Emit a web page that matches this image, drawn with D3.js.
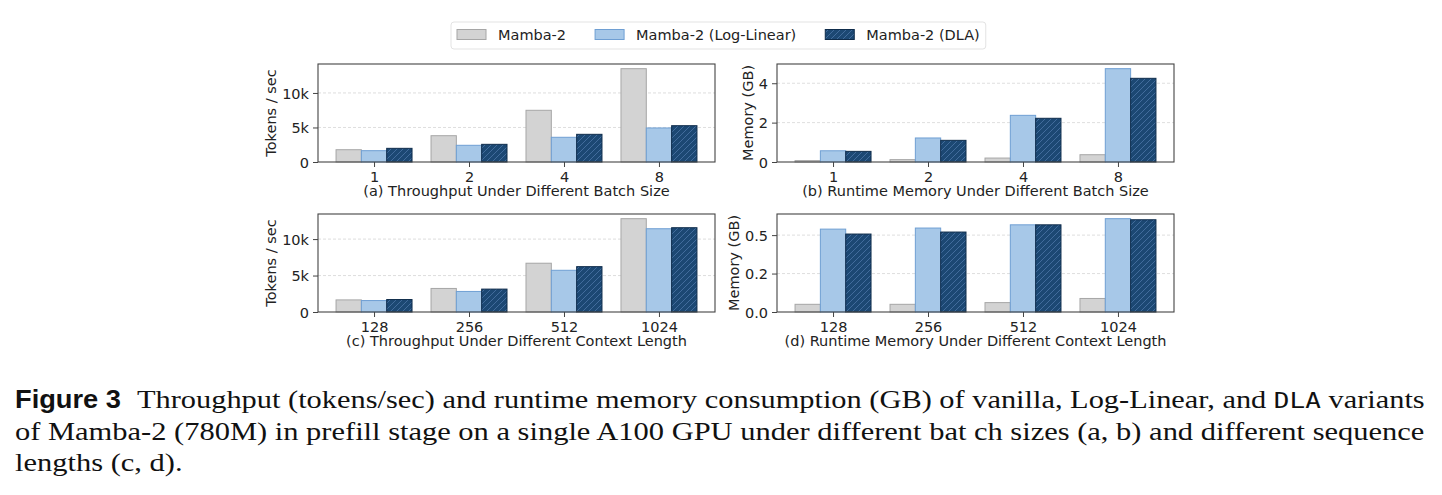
<!DOCTYPE html>
<html>
<head>
<meta charset="utf-8">
<title>Figure 3</title>
<script src="https://cdnjs.cloudflare.com/ajax/libs/d3/7.8.5/d3.min.js"></script>
<style>
  body { margin: 0; background: #fff; }
  svg { display: block; font-family: "DejaVu Sans", sans-serif; }
  .tick text { font-size: 14.5px; fill: #222; font-family: "DejaVu Sans", sans-serif; }
</style>
</head>
<body>
<svg id="fig" width="1442" height="495"></svg>
<script>
// categories
const batchSizes = ['1', '2', '4', '8'];
const contextLengths = ['128', '256', '512', '1024'];
const seriesNames = ['Mamba-2', 'Mamba-2 (Log-Linear)', 'Mamba-2 (DLA)'];

// (a) throughput vs batch size (tokens/sec)
const tputBatchMamba = [1780, 3810, 7490, 13520];
const tputBatchLogLinear = [1640, 2420, 3580, 4930];
const tputBatchDLA = [1980, 2560, 4010, 5260];

// (b) memory vs batch size (GB)
const memBatchMamba = [0.07, 0.12, 0.20, 0.37];
const memBatchLogLinear = [0.57, 1.22, 2.37, 4.74];
const memBatchDLA = [0.54, 1.10, 2.22, 4.25];

// (c) throughput vs context length (tokens/sec)
const tputCtxMamba = [1660, 3230, 6690, 12800];
const tputCtxLogLinear = [1570, 2820, 5720, 11420];
const tputCtxDLA = [1710, 3140, 6220, 11560];

// (d) memory vs context length (GB)
const memCtxMamba = [0.050, 0.050, 0.061, 0.088];
const memCtxLogLinear = [0.539, 0.546, 0.567, 0.607];
const memCtxDLA = [0.507, 0.520, 0.567, 0.600];

// tick values / labels
const tputTicks = [0, 5000, 10000];
const tputTickLabels = ['0', '5k', '10k'];
const memBatchTicks = [0, 2, 4];
const memBatchTickLabels = ['0', '2', '4'];
const memCtxTicks = [0, 0.25, 0.5];
const memCtxTickLabels = ['0.0', '0.2', '0.5'];

const fills = ['#d3d3d3', '#a7c8e8', '#1c4873'];
const edges = ['#a6a6a6', '#6f9fd3', '#0f2c4b'];

const svg = d3.select('#fig');
svg.append('rect').attr('width', 1442).attr('height', 495).attr('fill', '#fff');

// hatch for DLA bars
const defs = svg.append('defs');
const pat = defs.append('pattern')
  .attr('id', 'hatch')
  .attr('patternUnits', 'userSpaceOnUse')
  .attr('width', 6).attr('height', 6);
pat.append('rect').attr('width', 6).attr('height', 6).attr('fill', fills[2]);
pat.append('path')
  .attr('d', 'M0,6 L6,0 M-1.5,1.5 L1.5,-1.5 M4.5,7.5 L7.5,4.5')
  .attr('stroke', '#4671a0').attr('stroke-width', 0.9);

const panels = [
  { x0: 318, x1: 715, y0: 64, y1: 162, cats: batchSizes,
    series: [tputBatchMamba, tputBatchLogLinear, tputBatchDLA],
    ticks: tputTicks, tickLabels: tputTickLabels,
    ylabel: 'Tokens / sec', title: '(a) Throughput Under Different Batch Size' },
  { x0: 777, x1: 1174, y0: 64, y1: 162, cats: batchSizes,
    series: [memBatchMamba, memBatchLogLinear, memBatchDLA],
    ticks: memBatchTicks, tickLabels: memBatchTickLabels,
    ylabel: 'Memory (GB)', title: '(b) Runtime Memory Under Different Batch Size' },
  { x0: 318, x1: 715, y0: 214, y1: 312, cats: contextLengths,
    series: [tputCtxMamba, tputCtxLogLinear, tputCtxDLA],
    ticks: tputTicks, tickLabels: tputTickLabels,
    ylabel: 'Tokens / sec', title: '(c) Throughput Under Different Context Length' },
  { x0: 777, x1: 1174, y0: 214, y1: 312, cats: contextLengths,
    series: [memCtxMamba, memCtxLogLinear, memCtxDLA],
    ticks: memCtxTicks, tickLabels: memCtxTickLabels,
    ylabel: 'Memory (GB)', title: '(d) Runtime Memory Under Different Context Length' }
];

const barW = 0.8 / 3;

panels.forEach(p => {
  const n = p.cats.length;
  // matplotlib-like 5% margins around the bars
  const lo = -0.4, hi = n - 1 + 0.4, pad = (hi - lo) * 0.05;
  const x = d3.scaleLinear().domain([lo - pad, hi + pad]).range([p.x0, p.x1]);
  const ymax = d3.max(p.series, s => d3.max(s)) * 1.05;
  const y = d3.scaleLinear().domain([0, ymax]).range([p.y1, p.y0]);

  const g = svg.append('g');

  // grid
  g.selectAll('.grid')
    .data(p.ticks.filter(t => t > 0))
    .enter().append('line')
    .attr('x1', p.x0).attr('x2', p.x1)
    .attr('y1', d => y(d)).attr('y2', d => y(d))
    .attr('stroke', '#d6d6d6').attr('stroke-width', 0.8)
    .attr('stroke-dasharray', '3,2');

  // bars
  p.series.forEach((vals, s) => {
    g.selectAll('.bar' + s)
      .data(vals)
      .enter().append('rect')
      .attr('x', (d, i) => x(i - 0.4 + s * barW))
      .attr('width', x(barW) - x(0))
      .attr('y', d => y(d))
      .attr('height', d => y(0) - y(d))
      .attr('fill', s === 2 ? 'url(#hatch)' : fills[s])
      .attr('stroke', edges[s])
      .attr('stroke-width', 1);
  });

  // frame
  g.append('rect')
    .attr('x', p.x0).attr('y', p.y0)
    .attr('width', p.x1 - p.x0).attr('height', p.y1 - p.y0)
    .attr('fill', 'none').attr('stroke', '#444').attr('stroke-width', 1.1);

  // axes
  const xAxis = g.append('g')
    .attr('transform', `translate(0,${p.y1})`)
    .call(d3.axisBottom(x)
      .tickValues(d3.range(n))
      .tickFormat(i => p.cats[i])
      .tickSizeInner(5).tickSizeOuter(0).tickPadding(5));
  xAxis.select('.domain').remove();
  xAxis.selectAll('.tick line').attr('stroke', '#444');

  const yAxis = g.append('g')
    .attr('transform', `translate(${p.x0},0)`)
    .call(d3.axisLeft(y)
      .tickValues(p.ticks)
      .tickFormat((d, i) => p.tickLabels[i])
      .tickSizeInner(5).tickSizeOuter(0).tickPadding(4));
  yAxis.select('.domain').remove();
  yAxis.selectAll('.tick line').attr('stroke', '#444');
  yAxis.selectAll('.tick text').attr('dy', '0.36em');

  const bb = yAxis.node().getBBox();
  g.append('text')
    .attr('transform', `translate(${p.x0 + bb.x - 6},${(p.y0 + p.y1) / 2}) rotate(-90)`)
    .attr('text-anchor', 'middle')
    .style('font-size', '14.5px').attr('fill', '#222')
    .text(p.ylabel);

  g.append('text')
    .attr('x', (p.x0 + p.x1) / 2).attr('y', p.y1 + 34)
    .attr('text-anchor', 'middle')
    .style('font-size', '14.5px').attr('fill', '#222')
    .text(p.title);
});

// legend
const leg = svg.append('g');
const legFrame = leg.append('rect')
  .attr('y', 22).attr('height', 27).attr('rx', 3)
  .attr('fill', '#fff').attr('stroke', '#e3e3e3').attr('stroke-width', 1);
let lx = 457;
seriesNames.forEach((name, i) => {
  leg.append('rect')
    .attr('x', lx).attr('y', 29.5).attr('width', 29).attr('height', 10)
    .attr('fill', i === 2 ? 'url(#hatch)' : fills[i])
    .attr('stroke', edges[i]).attr('stroke-width', 1);
  const t = leg.append('text')
    .attr('x', lx + 41).attr('y', 39.5)
    .style('font-size', '14.5px').attr('fill', '#222')
    .text(name);
  lx += 41 + t.node().getComputedTextLength() + 29;
});
legFrame.attr('x', 451).attr('width', lx - 29 + 6 - 451);

// caption: serif text, stretched horizontally to fill the justified width
const capFont = '"Liberation Serif", "DejaVu Serif", serif';
const capSize = 24.5;
function captionLine(parts, x0, yb, width, sxFixed) {
  const g = svg.append('g');
  const t = g.append('text').attr('x', 0).attr('y', 0)
    .attr('fill', '#111')
    .style('font-family', capFont).style('font-size', capSize + 'px');
  parts.forEach(pt => {
    const ts = t.append('tspan').text(pt.t);
    if (pt.mono) ts.style('font-family', '"DejaVu Sans Mono", monospace').style('font-size', '21px');
  });
  const w = t.node().getComputedTextLength();
  const sx = sxFixed || width / w;
  g.attr('transform', `translate(${x0},${yb}) scale(${sx},1)`);
  return sx;
}

svg.append('text')
  .attr('x', 15).attr('y', 408)
  .attr('textLength', 106).attr('lengthAdjust', 'spacingAndGlyphs')
  .style('font-family', '"Liberation Sans", Arial, sans-serif')
  .style('font-weight', 'bold')
  .style('font-size', '25px')
  .attr('fill', '#111')
  .text('Figure 3');

captionLine([
  { t: 'Throughput (tokens/sec) and runtime memory consumption (GB) of vanilla, Log-Linear, and ' },
  { t: 'DLA', mono: true },
  { t: ' variants' }
], 137, 408, 1425 - 137);
const sx2 = captionLine([
  { t: 'of Mamba-2 (780M) in prefill stage on a single A100 GPU under different bat ch sizes (a, b) and different sequence' }
], 15, 440, 1425 - 15);
captionLine([{ t: 'lengths (c, d).' }], 15, 471, 0, sx2);
</script>
</body>
</html>
